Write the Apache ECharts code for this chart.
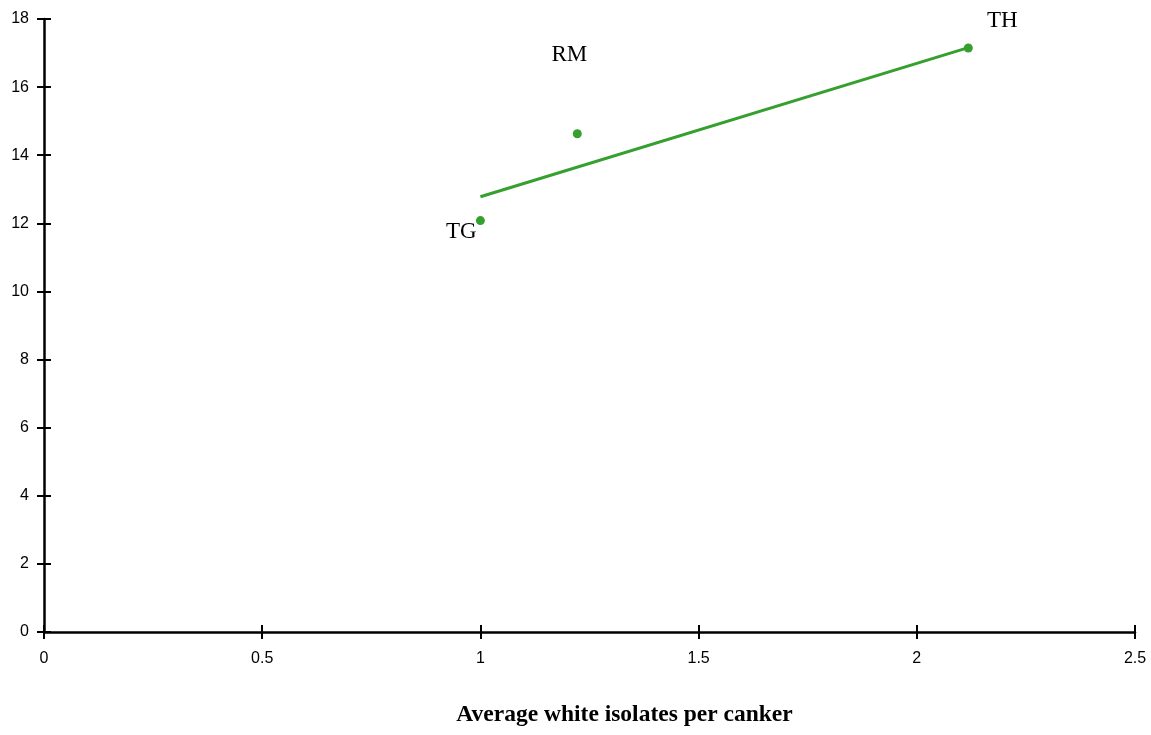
<!DOCTYPE html>
<html>
<head>
<meta charset="utf-8">
<script src="https://cdn.jsdelivr.net/npm/echarts@6/dist/echarts.min.js"></script>
<style>
  html, body { margin: 0; padding: 0; background: #fff; }
  #chart { width: 1151px; height: 735px; }
</style>
</head>
<body>
<div id="chart"></div>
<script>
// data
const siteNames = ['TG', 'RM', 'TH'];
const whiteIsolates = [1.0, 1.222, 2.118];
const canopyValues = [12.08, 14.63, 17.15];
const trendX = [1.0, 2.118];
const trendY = [12.78, 17.16];
// where each site label sits relative to its dot
const labelOffsets = [[-19, 11], [-8, -79], [34, -27]];

const green = '#36a02f';
const axisCommon = {
  axisLine: { lineStyle: { color: '#000', width: 2.5 } },
  splitLine: { show: false }
};

var myChart = echarts.init(document.getElementById('chart'));
const option = {
  animation: false,
  grid: { left: 44, right: 16, top: 19, bottom: 103, containLabel: false },
  xAxis: [
    Object.assign({
      type: 'value', min: 0, max: 2.5, interval: 0.5, position: 'bottom',
      name: 'Average white isolates per canker',
      nameLocation: 'middle', nameGap: 71,
      nameTextStyle: { fontFamily: 'Liberation Serif', fontWeight: 'bold', fontSize: 23.5, color: '#000', padding: [0, 0, 0, 70] },
      axisTick: { length: 7, lineStyle: { color: '#000', width: 2 } },
      axisLabel: { margin: 19, fontFamily: 'Liberation Sans', fontSize: 16, color: '#000' }
    }, axisCommon),
    {
      type: 'value', min: 0, max: 2.5, interval: 0.5, position: 'bottom',
      axisLine: { show: false }, splitLine: { show: false }, axisLabel: { show: false },
      axisTick: { inside: true, length: 7, lineStyle: { color: '#000', width: 2 } }
    }
  ],
  yAxis: [
    Object.assign({
      type: 'value', min: 0, max: 18, interval: 2, position: 'left',
      axisTick: { length: 7, lineStyle: { color: '#000', width: 2 } },
      axisLabel: { margin: 15, fontFamily: 'Liberation Sans', fontSize: 16, color: '#000' }
    }, axisCommon),
    {
      type: 'value', min: 0, max: 18, interval: 2, position: 'left',
      axisLine: { show: false }, splitLine: { show: false }, axisLabel: { show: false },
      axisTick: { inside: true, length: 7, lineStyle: { color: '#000', width: 2 } }
    }
  ],
  series: [
    {
      type: 'line',
      data: trendX.map((x, i) => [x, trendY[i]]),
      showSymbol: false,
      lineStyle: { color: green, width: 3 },
      z: 2
    },
    {
      type: 'scatter',
      data: whiteIsolates.map((x, i) => ({
        value: [x, canopyValues[i]],
        label: { offset: labelOffsets[i] }
      })),
      symbolSize: 9,
      itemStyle: { color: green, opacity: 1 },
      label: {
        show: true, position: 'inside',
        formatter: p => siteNames[p.dataIndex],
        fontFamily: 'Liberation Serif', fontSize: 23, color: '#000'
      },
      z: 3
    }
  ]
};
myChart.setOption(option);
</script>
</body>
</html>
